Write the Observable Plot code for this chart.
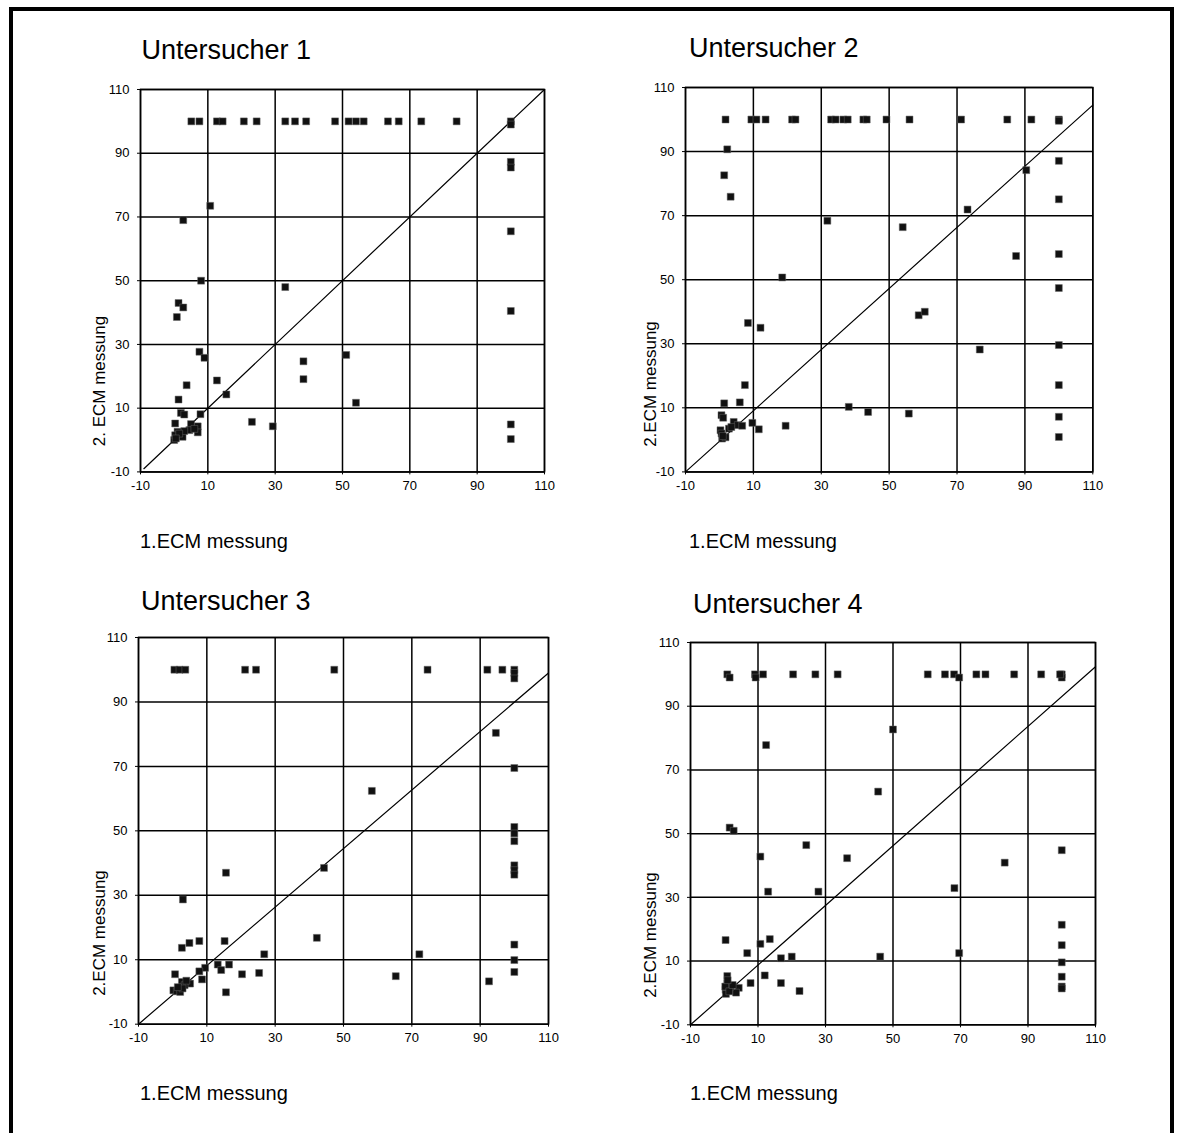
<!DOCTYPE html>
<html>
<head>
<meta charset="utf-8">
<script src="https://cdn.jsdelivr.net/npm/d3@7"></script>
<script src="https://cdn.jsdelivr.net/npm/@observablehq/plot@0.6"></script>
<style>
  html, body { margin: 0; padding: 0; background: #fff; }
  body { width: 1182px; height: 1133px; position: relative; overflow: hidden; font-family: "Liberation Sans", Arial, sans-serif; color: #000; }
  .border { position: absolute; left: 9px; top: 7px; width: 1157px; height: 1140px; border: 4px solid #000; border-bottom: none; }
  .panel { position: absolute; }
  .title { position: absolute; font-size: 27px; line-height: 27px; white-space: nowrap; }
  .xlab { position: absolute; font-size: 20px; line-height: 20px; white-space: nowrap; }
  .ylab { position: absolute; font-size: 17px; line-height: 17px; white-space: nowrap; transform: translate(-50%, -50%) rotate(-90deg); }
</style>
</head>
<body>
<div class="border"></div>
<script>
// ---------- data ----------
const ticks = [-10, 10, 30, 50, 70, 90, 110];
const titles = ["Untersucher 1", "Untersucher 2", "Untersucher 3", "Untersucher 4"];
const xLabels = ["1.ECM messung", "1.ECM messung", "1.ECM messung", "1.ECM messung"];
const yLabels = ["2. ECM messung", "2.ECM messung", "2.ECM messung", "2.ECM messung"];

// Untersucher 1
const u1x = [5.1, 7.5, 12.7, 14.4, 20.7, 24.5, 33.0, 35.9, 39.2, 47.8, 51.8, 54.0, 56.3, 63.5, 66.7, 73.4, 83.9, 100, 100,
  100, 100, 100, 100, 100, 100,
  8, 33, 1.3, 2.7, 0.8, 7.5, 9, 38.4, 38.4, 51.1, 54, 12.7, 15.5, 3.7, 1.3, 23.1, 29.3, 10.7, 2.7,
  2.0, 3.0, 7.8, 0.3, 5.0, 7.0, 7.0, 4.5, 2.5, 3.0, 1.0, 0.0, 0.3, 1.5, 6.0, 0.5];
const u1y = [100, 100, 100, 100, 100, 100, 100, 100, 100, 100, 100, 100, 100, 100, 100, 100, 100, 100, 99,
  87.3, 85.5, 65.5, 40.5, 4.9, 0.3,
  50, 48, 43, 41.6, 38.6, 27.7, 25.8, 24.7, 19.1, 26.7, 11.7, 18.7, 14.3, 17.2, 12.7, 5.7, 4.3, 73.5, 69.0,
  8.5, 8.0, 8.1, 5.2, 5.0, 4.3, 2.4, 3.1, 1.0, 2.8, 2.6, 0.0, 1.5, 2.0, 3.5, 0.5];

// Untersucher 2
const u2x = [1.8, 9.4, 10.9, 13.6, 21.4, 22.4, 32.9, 34.2, 36.5, 37.8, 42.4, 43.4, 49.2, 56.0, 71.2, 84.8, 91.9, 100, 100,
  2.3, 1.4, 3.3, 100, 90.4, 73.1, 100, 31.8, 54, 87.4, 100, 18.5, 100, 58.7, 60.5, 8.4, 12.1, 76.7, 100, 7.5, 100,
  1.4, 6.0, 38.1, 43.8, 55.8, 100, 100, 19.5, 9.7, 11.6,
  0.6, 1.1, 4.2, 5.4, 6.7, 2.8, 0.3, 0.6, 0.8, 1.8, 3.5, 1.0];
const u2y = [100, 100, 100, 100, 100, 100, 100, 100, 100, 100, 100, 100, 100, 100, 100, 100, 100, 100, 99.6,
  90.7, 82.6, 75.9, 87.1, 84.2, 71.9, 75.1, 68.4, 66.4, 57.4, 58, 50.7, 47.4, 38.9, 40, 36.5, 35, 28.2, 29.6, 17.1, 17.1,
  11.4, 11.7, 10.3, 8.7, 8.2, 7.2, 0.9, 4.4, 5.3, 3.3,
  7.7, 6.9, 5.6, 4.6, 4.4, 3.5, 3.0, 2.0, 0.4, 0.8, 4.0, 1.2];

// Untersucher 3
const u3x = [0.5, 2.0, 3.7, 21.2, 24.4, 47.3, 74.6, 92.1, 96.5, 100, 100, 100,
  94.6, 100, 58.3, 100, 100, 100, 100, 100, 100, 15.6, 44.3, 3.0, 42.2, 100, 72.2, 26.8, 100, 100, 65.3, 92.6, 15.6,
  2.7, 4.9, 7.8, 15.2,
  13.2, 16.5, 14.2, 20.3, 25.3, 0.7, 9.5, 7.8, 8.6, 5.1, 2.7, 3.5, 0.2, 1.2, 2.2, 2.9, 1.5, 4.0];
const u3y = [100, 100, 100, 100, 100, 100, 100, 100, 100, 100, 99, 97.3,
  80.4, 69.5, 62.4, 51.2, 49.2, 46.8, 39.3, 37.8, 36.4, 37, 38.5, 28.7, 16.8, 14.7, 11.7, 11.7, 9.9, 6.2, 4.9, 3.3, -0.1,
  13.7, 15.2, 15.8, 15.8,
  8.5, 8.5, 6.8, 5.5, 5.9, 5.5, 7.5, 6.4, 3.9, 2.6, 3.1, 2.1, 0.5, 0.2, 0.0, 1.1, 1.5, 3.5];

// Untersucher 4
const u4x = [0.9, 1.6, 9.1, 9.3, 11.5, 20.4, 27, 33.6, 60.3, 65.4, 68.1, 69.6, 74.7, 77.4, 85.9, 93.9, 100, 100, 99.5,
  50, 12.4, 45.6, 1.6, 2.8, 24.3, 36.4, 10.7, 83.1, 13, 27.9, 68.2, 100, 100, 100, 100, 100, 100, 100,
  0.4, 13.5, 10.7, 6.8, 16.8, 20, 46.2, 69.6, 0.9, 12, 7.8, 16.8, 22.3, 4.3, 3.5,
  0.9, 0.4, 0.5, 1.9, 0.3, 1.5, 2.5, 1.0];
const u4y = [100, 99, 100, 99, 100, 100, 100, 100, 100, 100, 100, 99, 100, 100, 100, 100, 100, 99, 100,
  82.7, 77.8, 63.2, 51.9, 50.9, 46.4, 42.3, 42.8, 40.9, 31.8, 31.8, 32.9, 44.8, 21.4, 15, 9.6, 5.1, 2.0, 1.4,
  16.6, 16.9, 15.4, 12.5, 10.9, 11.4, 11.4, 12.5, 5.3, 5.5, 3.1, 3.1, 0.6, 1.6, 0.1,
  3.0, 1.0, -0.3, 2.0, 2.0, 0.5, 2.5, 4.0];

// trend lines (endpoints)
const line1X = [-9, 110], line1Y = [-9, 110];
const line2X = [-10, 110], line2Y = [-10, 104.5];
const line3X = [-10, 110], line3Y = [-10, 99];
const line4X = [-10, 110], line4Y = [-10, 102.4];

// ---------- layout ----------
const panels = [
  {xs: u1x, ys: u1y, lx: line1X, ly: line1Y, fl: 139.5, ft: 89.3, fw: 404, fh: 382.4,
   title: [141.5, 36.5], xlab: [140, 531], ylab: [99, 381]},
  {xs: u2x, ys: u2y, lx: line2X, ly: line2Y, fl: 685, ft: 87.3, fw: 407.3, fh: 384.4,
   title: [689, 34.5], xlab: [689, 531], ylab: [650, 384]},
  {xs: u3x, ys: u3y, lx: line3X, ly: line3Y, fl: 138.3, ft: 637.3, fw: 410, fh: 386.7,
   title: [141, 587.5], xlab: [140, 1083], ylab: [99, 933]},
  {xs: u4x, ys: u4y, lx: line4X, ly: line4Y, fl: 690, ft: 641.7, fw: 405, fh: 382.3,
   title: [693, 590.5], xlab: [690, 1083], ylab: [650, 935]}
];

const mL = 45, mT = 10, mR = 12, mB = 30;

panels.forEach((p, i) => {
  const pts = p.xs.map((x, j) => ({x, y: p.ys[j]}));
  const line = p.lx.map((x, j) => ({x, y: p.ly[j]}));
  const chart = Plot.plot({
    width: p.fw + mL + mR,
    height: p.fh + mT + mB,
    marginLeft: mL, marginTop: mT, marginRight: mR, marginBottom: mB,
    x: {domain: [-10, 110]},
    y: {domain: [-10, 110]},
    style: {fontFamily: "'Liberation Sans', Arial, sans-serif", fontSize: "13px", color: "#000", background: "transparent", overflow: "visible"},
    marks: [
      Plot.gridX(ticks, {stroke: "#000", strokeOpacity: 1, strokeWidth: 1.5}),
      Plot.gridY(ticks, {stroke: "#000", strokeOpacity: 1, strokeWidth: 1.5}),
      Plot.frame({stroke: "#000", strokeWidth: 1.5}),
      Plot.axisX(ticks, {tickSize: 3, tickPadding: 6, tickFormat: d => String(d), label: null, fontSize: 13}),
      Plot.axisY(ticks, {tickSize: 3, tickPadding: 8, tickFormat: d => String(d), label: null, fontSize: 13}),
      Plot.line(line, {x: "x", y: "y", stroke: "#000", strokeWidth: 1.2}),
      Plot.dot(pts, {x: "x", y: "y", symbol: "square", fill: "#111", stroke: "#666", strokeWidth: 0.5, r: 3.9})
    ]
  });
  const wrap = document.createElement("div");
  wrap.className = "panel";
  wrap.style.left = (p.fl - mL) + "px";
  wrap.style.top = (p.ft - mT) + "px";
  wrap.appendChild(chart);
  document.body.appendChild(wrap);

  const t = document.createElement("div");
  t.className = "title";
  t.textContent = titles[i];
  t.style.left = p.title[0] + "px";
  t.style.top = p.title[1] + "px";
  document.body.appendChild(t);

  const xl = document.createElement("div");
  xl.className = "xlab";
  xl.textContent = xLabels[i];
  xl.style.left = p.xlab[0] + "px";
  xl.style.top = p.xlab[1] + "px";
  document.body.appendChild(xl);

  const yl = document.createElement("div");
  yl.className = "ylab";
  yl.textContent = yLabels[i];
  yl.style.left = p.ylab[0] + "px";
  yl.style.top = p.ylab[1] + "px";
  document.body.appendChild(yl);
});
</script>
</body>
</html>
